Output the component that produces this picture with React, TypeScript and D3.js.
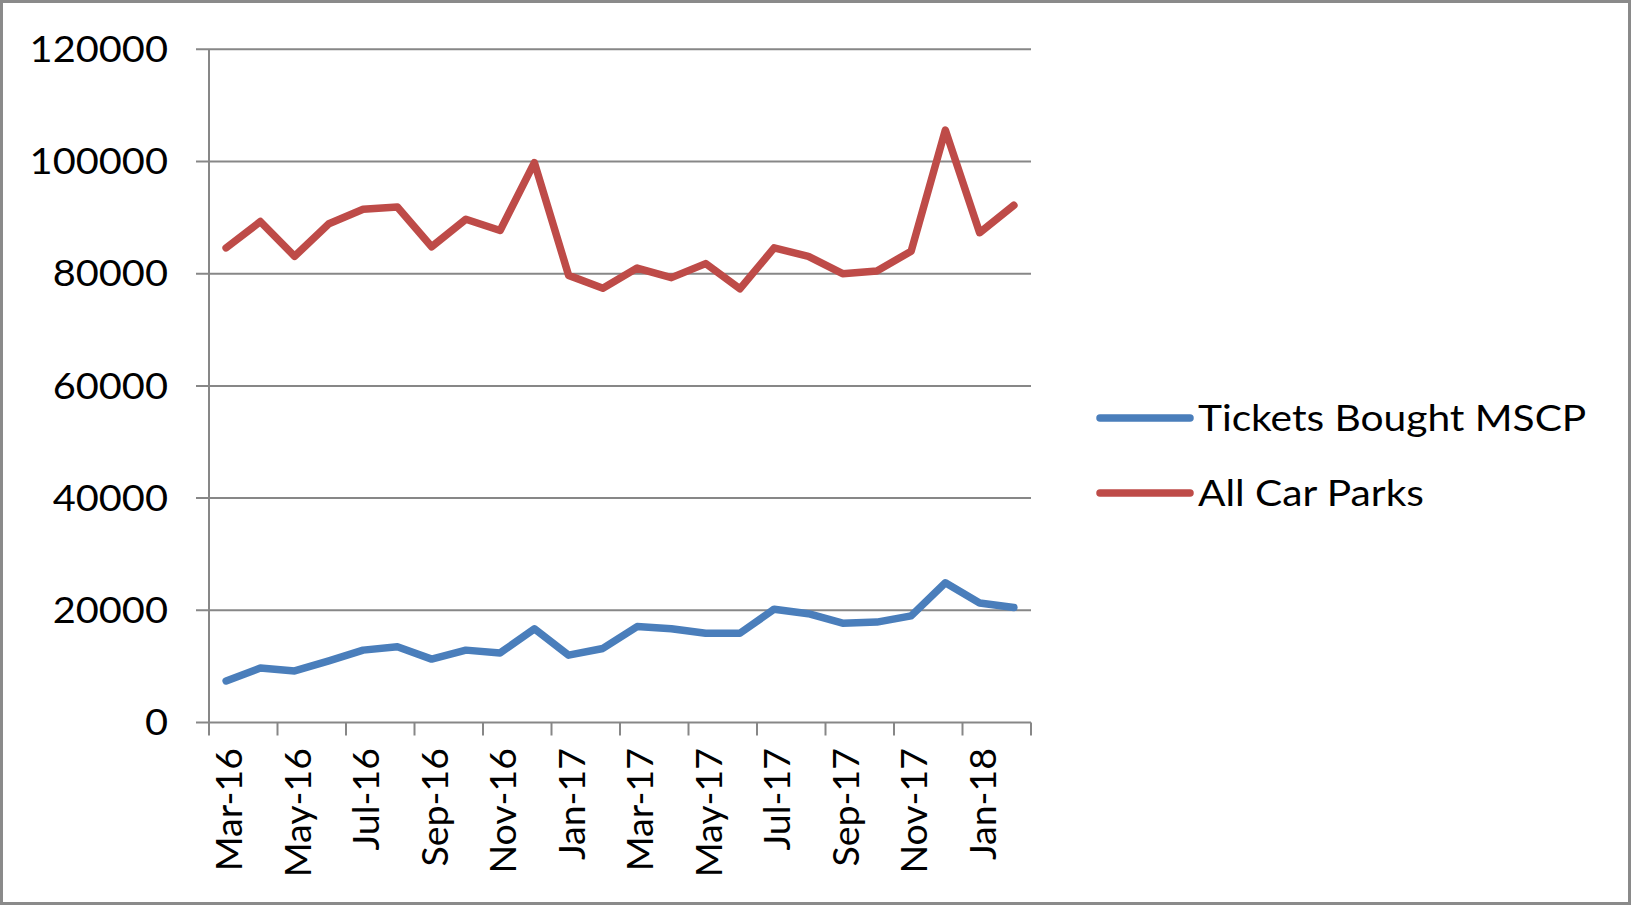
import React, { useEffect } from "react";
import * as d3 from "d3";

const categories = [
  "Mar-16", "Apr-16", "May-16", "Jun-16", "Jul-16", "Aug-16", "Sep-16", "Oct-16",
  "Nov-16", "Dec-16", "Jan-17", "Feb-17", "Mar-17", "Apr-17", "May-17", "Jun-17",
  "Jul-17", "Aug-17", "Sep-17", "Oct-17", "Nov-17", "Dec-17", "Jan-18", "Feb-18",
];

const ticketsBoughtMSCP = [
  7400, 9700, 9200, 11000, 12900, 13500, 11300, 12900, 12400, 16700, 12000, 13200,
  17100, 16700, 15900, 15900, 20200, 19400, 17700, 17900, 19000, 24900, 21300, 20500,
];

const allCarParks = [
  84600, 89300, 83100, 88900, 91500, 91900, 84800, 89700, 87700, 99800, 79700, 77400,
  81000, 79300, 81800, 77300, 84600, 83100, 80000, 80500, 84000, 105600, 87300, 92200,
];

const yTicks = [0, 20000, 40000, 60000, 80000, 100000, 120000];

const seriesNames = ["Tickets Bought MSCP", "All Car Parks"];
const seriesColors = ["#4A7EBB", "#BE4B48"];

const W = 1631;
const H = 905;
const FONT = "Lato, 'Open Sans', sans-serif";

export default function App() {
  useEffect(() => {
    document.body.style.margin = "0";
  }, []);

  const x = d3.scaleBand<string>().domain(categories).range([209, 1031]).padding(0);
  const y = d3.scaleLinear().domain([0, 120000]).range([722.5, 49.3]);
  const cx = (c: string) => (x(c) as number) + x.bandwidth() / 2;

  const lineGen = d3
    .line<number>()
    .x((_, i) => cx(categories[i]))
    .y((v) => y(v));

  const series = [ticketsBoughtMSCP, allCarParks];

  const tickPositions: number[] = [];
  categories.forEach((c, i) => {
    if (i % 2 === 0) tickPositions.push(x(c) as number);
  });
  tickPositions.push(1031);

  const gridColor = "#878787";

  return (
    <svg width={W} height={H} style={{ display: "block" }}>
      <rect x={0} y={0} width={W} height={H} fill="#fff" />
      <rect x={1.5} y={1.5} width={W - 3} height={H - 3} fill="none" stroke="#8a8a8a" strokeWidth={3} />
      {yTicks.map((t) => (
        <g key={t}>
          <line x1={196} x2={1031} y1={y(t)} y2={y(t)} stroke={gridColor} strokeWidth={2} />
          <text
            transform={`translate(168,${y(t)}) scale(1.09,1)`}
            dy="0.35em"
            textAnchor="end"
            fontFamily={FONT}
            fontSize={36.5}
            fill="#000"
          >
            {t}
          </text>
        </g>
      ))}
      <line x1={209} x2={209} y1={y(120000)} y2={y(0)} stroke={gridColor} strokeWidth={2} />
      {tickPositions.map((p, i) => (
        <line key={i} x1={p} x2={p} y1={y(0)} y2={y(0) + 13} stroke={gridColor} strokeWidth={2} />
      ))}
      {categories.map((c, i) =>
        i % 2 === 0 ? (
          <text
            key={c}
            transform={`translate(${cx(c) + 3},${748}) rotate(-90)`}
            textAnchor="end"
            dy="0.35em"
            fontFamily={FONT}
            fontSize={37.5}
            fill="#000"
          >
            {c}
          </text>
        ) : null
      )}
      {series.map((s, i) => (
        <path
          key={i}
          d={lineGen(s) || ""}
          fill="none"
          stroke={seriesColors[i]}
          strokeWidth={7.5}
          strokeLinejoin="round"
          strokeLinecap="round"
        />
      ))}
      {seriesNames.map((n, i) => {
        const ly = 418 + i * 75;
        return (
          <g key={n}>
            <line x1={1100} x2={1190} y1={ly} y2={ly} stroke={seriesColors[i]} strokeWidth={7.5} strokeLinecap="round" />
            <text
              transform={`translate(1198,${ly}) scale(1.1,1)`}
              dy="0.35em"
              fontFamily={FONT}
              fontSize={37}
              fill="#000"
            >
              {n}
            </text>
          </g>
        );
      })}
    </svg>
  );
}
